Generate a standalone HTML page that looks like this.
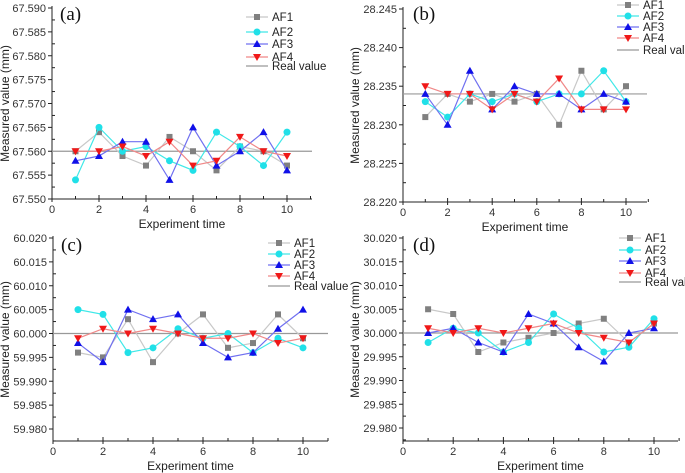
<!DOCTYPE html>
<html><head><meta charset="utf-8"><style>
html,body{margin:0;padding:0;background:#fff;}
svg{display:block;font-family:"Liberation Sans",Arial,sans-serif;}
</style></head><body>
<svg id="c" width="685" height="473" viewBox="0 0 685 473"></svg>
<script>
const xs=[1,2,3,4,5,6,7,8,9,10];
const aAF1=[67.560,67.564,67.559,67.557,67.563,67.560,67.556,67.561,67.560,67.557];
const aAF2=[67.554,67.565,67.560,67.561,67.558,67.556,67.564,67.561,67.557,67.564];
const aAF3=[67.558,67.559,67.562,67.562,67.554,67.565,67.557,67.560,67.564,67.556];
const aAF4=[67.560,67.560,67.561,67.559,67.562,67.557,67.558,67.563,67.560,67.559];
const aReal=67.560;
const aTicks=["67.550","67.555","67.560","67.565","67.570","67.575","67.580","67.585","67.590"];
const bAF1=[28.231,28.234,28.233,28.234,28.233,28.234,28.230,28.237,28.232,28.235];
const bAF2=[28.233,28.231,28.234,28.233,28.234,28.233,28.234,28.234,28.237,28.233];
const bAF3=[28.234,28.230,28.237,28.232,28.235,28.234,28.234,28.232,28.234,28.233];
const bAF4=[28.235,28.234,28.234,28.232,28.234,28.233,28.236,28.232,28.232,28.232];
const bReal=28.234;
const bTicks=["28.220","28.225","28.230","28.235","28.240","28.245"];
const cAF1=[59.996,59.995,60.003,59.994,60.000,60.004,59.997,59.998,60.004,59.999];
const cAF2=[60.005,60.004,59.996,59.997,60.001,59.999,60.000,59.996,59.999,59.997];
const cAF3=[59.998,59.994,60.005,60.003,60.004,59.998,59.995,59.996,60.001,60.005];
const cAF4=[59.999,60.001,60.000,60.001,60.000,59.999,59.999,60.000,59.998,59.999];
const cReal=60.000;
const cTicks=["59.980","59.985","59.990","59.995","60.000","60.005","60.010","60.015","60.020"];
const dAF1=[30.005,30.004,29.996,29.998,29.999,30.000,30.002,30.003,29.998,30.002];
const dAF2=[29.998,30.001,30.000,29.996,29.998,30.004,30.001,29.996,29.997,30.003];
const dAF3=[30.000,30.001,29.998,29.996,30.004,30.002,29.997,29.994,30.000,30.001];
const dAF4=[30.001,30.000,30.001,30.000,30.001,30.002,30.000,29.999,29.998,30.002];
const dReal=30.000;
const dTicks=["29.980","29.985","29.990","29.995","30.000","30.005","30.010","30.015","30.020"];
const xTicks=["0","2","4","6","8","10"];
const names=["AF1","AF2","AF3","AF4"];

const svg=document.getElementById('c');
const NS="http://www.w3.org/2000/svg";
function mk(t,a,p,txt){const e=document.createElementNS(NS,t);for(const k in a)e.setAttribute(k,a[k]);if(txt!==undefined)e.textContent=txt;(p||svg).appendChild(e);return e;}

const styles=[
 {line:"#c8c8c8",fill:"#808080",m:"sq"},
 {line:"#40e8e8",fill:"#20e0e8",m:"ci"},
 {line:"#7070f0",fill:"#1010e8",m:"up"},
 {line:"#f08888",fill:"#f01818",m:"dn"}];
function marker(g,m,x,y,c){
 if(m==="sq")return mk("rect",{x:x-3,y:y-3,width:6,height:6,fill:c},g);
 if(m==="ci")return mk("circle",{cx:x,cy:y,r:3.5,fill:c},g);
 if(m==="up")return mk("polygon",{points:`${x},${y-4} ${x+4},${y+3} ${x-4},${y+3}`,fill:c},g);
 return mk("polygon",{points:`${x-4},${y-3} ${x+4},${y-3} ${x},${y+4}`,fill:c},g);
}

function panel(P){
 const g=mk("g",{},svg);
 
 
 const ymin=parseFloat(P.ticks[0]), ymax=parseFloat(P.ticks[P.ticks.length-1]);
 const sx=v=>P.x0+(v/10)*(P.x10-P.x0);
 const sy=v=>P.yb-(v-ymin)/(ymax-ymin)*(P.yb-P.yt);
 // axes
 const ax=mk("line",{x1:P.x0,y1:P.axBot,x2:P.x0,y2:P.yt-2,stroke:"#222","stroke-width":1},g);
 
 const bx=mk("line",{x1:P.x0,y1:P.axBot,x2:P.xr,y2:P.axBot,stroke:"#222","stroke-width":1},g);
 
 P.ticks.forEach((t,i)=>{
  const y=sy(parseFloat(t));
  mk("line",{x1:P.x0-4,y1:y,x2:P.x0,y2:y,stroke:"#222"},g);
  if(i<P.ticks.length-1){const ym=sy(parseFloat(t)+(ymax-ymin)/(P.ticks.length-1)/2);mk("line",{x1:P.x0,y1:ym,x2:P.x0+3,y2:ym,stroke:"#222"},g);}
  const tl=mk("text",{x:P.x0-6,y:y+4,"text-anchor":"end","font-size":11,fill:"#333"},g,t);
  
 });
 if(P.axBot>P.yb){const ym=sy(ymin-(ymax-ymin)/(P.ticks.length-1)/2);mk("line",{x1:P.x0,y1:ym,x2:P.x0+3,y2:ym,stroke:"#222"},g);}
 for(let v=1;v<=11;v++){mk("line",{x1:sx(v),y1:P.axBot,x2:sx(v),y2:P.axBot-(v%2?3:4),stroke:"#222"},g);}
 xTicks.forEach(t=>{
  const x=sx(parseFloat(t));
  mk("line",{x1:x,y1:P.axBot,x2:x,y2:P.axBot+3,stroke:"#222"},g);
  const tl=mk("text",{x:x,y:P.axBot+14,"text-anchor":"middle","font-size":11,fill:"#333"},g,t);
  
 });
 const xt=mk("text",{x:(P.x0+P.xr)/2,y:P.axBot+29,"text-anchor":"middle","font-size":12,fill:"#222"},g,"Experiment time");
 
 const ymid=(P.yt+P.axBot)/2;
 const yt=mk("text",{x:P.ytx,y:ymid,"text-anchor":"middle","font-size":12,fill:"#222",transform:`rotate(-90 ${P.ytx} ${ymid})`},g,"Measured value (mm)");
 
 const pl=mk("text",{x:P.lx,y:P.ly,"font-size":19,fill:"#111","font-family":"Liberation Serif,serif"},g,P.label);
 
 // real value
 const rl=mk("line",{x1:P.x0,y1:sy(P.real),x2:P.xr,y2:sy(P.real),stroke:"#999","stroke-width":1.2},g);
 
 P.series.forEach((s,k)=>{
  const st=styles[k];
  const pts=s.map((v,i)=>sx(xs[i])+","+sy(v)).join(" ");
  const pline=mk("polyline",{points:pts,fill:"none",stroke:st.line,"stroke-width":1.2},g);
  
  
  s.forEach((v,i)=>{const m=marker(g,st.m,sx(xs[i]),sy(v),st.fill);
   
   });
 });
 // legend
 const lg=mk("g",{},g);
 
 P.legY.forEach((y,k)=>{
  const e=mk("g",{},lg);
  
  if(k<4){mk("line",{x1:P.legX,y1:y,x2:P.legX+22,y2:y,stroke:styles[k].line,"stroke-width":1.2},e);marker(e,styles[k].m,P.legX+11,y,styles[k].fill);
   mk("text",{x:P.legX+26,y:y+4,"font-size":11.5,fill:"#222"},e,names[k]);}
  else{mk("line",{x1:P.legX,y1:y,x2:P.legX+22,y2:y,stroke:"#999","stroke-width":1.2},e);
   mk("text",{x:P.legX+26,y:y+4,"font-size":11.5,fill:"#222"},e,"Real value");}
 });
}
panel({id:"a",label:"(a)",x0:52,x10:287,xr:312,yt:8,yb:199,axBot:199,ticks:aTicks,real:aReal,series:[aAF1,aAF2,aAF3,aAF4],ytx:9,lx:60,ly:20,legX:246,legY:[17,32,44,57,66]});
panel({id:"b",label:"(b)",x0:403,x10:626,xr:647,yt:9,yb:202,axBot:202,ticks:bTicks,real:bReal,series:[bAF1,bAF2,bAF3,bAF4],ytx:359,lx:413,ly:20,legX:617,legY:[5,16,27,38,50]});
panel({id:"c",label:"(c)",x0:53,x10:303,xr:328,yt:238,yb:429,axBot:441,ticks:cTicks,real:cReal,series:[cAF1,cAF2,cAF3,cAF4],ytx:9,lx:61,ly:251,legX:268,legY:[243,254,265,276,286]});
panel({id:"d",label:"(d)",x0:403,x10:654,xr:678,yt:238,yb:428,axBot:441,ticks:dTicks,real:dReal,series:[dAF1,dAF2,dAF3,dAF4],ytx:359,lx:413,ly:251,legX:619,legY:[238,250,261,273,282]});
</script>
</body></html>
